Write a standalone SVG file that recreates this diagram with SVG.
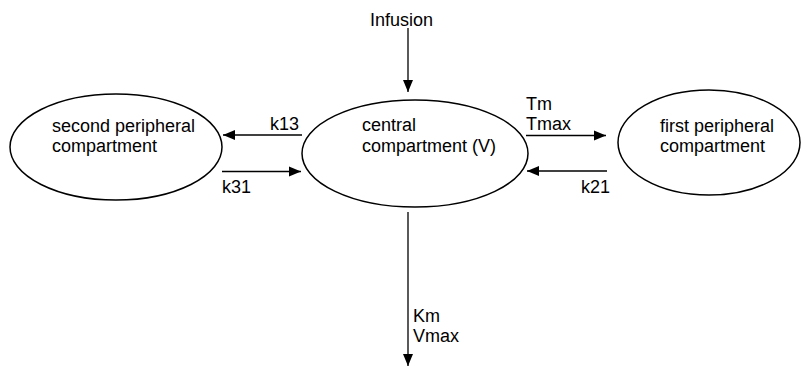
<svg xmlns="http://www.w3.org/2000/svg" width="812" height="366" viewBox="0 0 812 366">
<style>
.node{fill:#fff;stroke:#000;stroke-width:1.5}
text{font-family:"Liberation Sans",Arial,sans-serif;font-size:18px;fill:#000}
.edge{stroke:#000;stroke-width:1.3;fill:none;marker-end:url(#ah)}
</style>
<defs>
<marker id="ah" markerUnits="userSpaceOnUse" markerWidth="12" markerHeight="12" viewBox="0 0 12 12" refX="12" refY="6" orient="auto">
<path d="M0,1 L12,6 L0,11 Z" fill="#000"/>
</marker>
</defs>
<rect width="812" height="366" fill="#fff"/>
<g id="connectors">
<line class="edge" x1="408" y1="28" x2="408" y2="92"/>
<line class="edge" x1="302" y1="135" x2="223" y2="135"/>
<line class="edge" x1="222" y1="171.5" x2="301" y2="171.5"/>
<line class="edge" x1="526" y1="135.5" x2="606" y2="135.5"/>
<line class="edge" x1="607" y1="171" x2="527" y2="171"/>
<line class="edge" x1="408" y1="212" x2="408" y2="366"/>
<text x="370" y="26">Infusion</text>
<text x="270" y="130">k13</text>
<text x="222" y="193">k31</text>
<text x="526" y="110">Tm</text>
<text x="526" y="130">Tmax</text>
<text x="581" y="193">k21</text>
<text x="413" y="322">Km</text>
<text x="413" y="342">Vmax</text>
</g>
<g id="second">
<ellipse class="node" cx="116" cy="147" rx="106" ry="53"/>
<text x="52" y="132">second peripheral</text>
<text x="52" y="152">compartment</text>
</g>
<g id="central">
<ellipse class="node" cx="415" cy="153.5" rx="113" ry="53.5"/>
<text x="362" y="131">central</text>
<text x="362" y="152">compartment (V)</text>
</g>
<g id="first">
<ellipse class="node" cx="709" cy="142.5" rx="91" ry="52.5"/>
<text x="660" y="132">first peripheral</text>
<text x="660" y="152">compartment</text>
</g>
</svg>
